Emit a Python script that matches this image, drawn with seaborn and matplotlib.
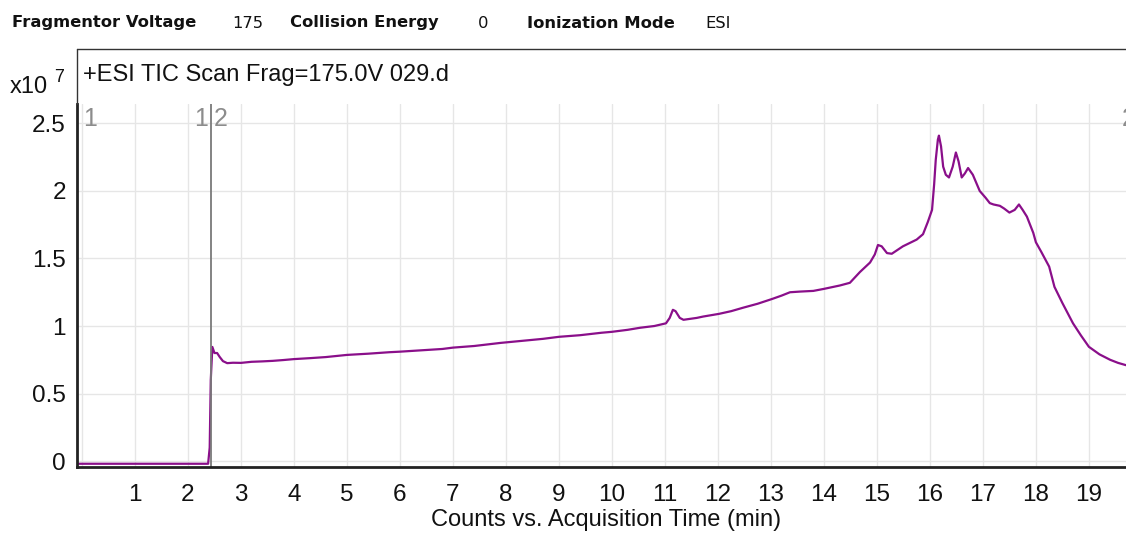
import pandas as pd
import seaborn as sns
import matplotlib.pyplot as plt
from matplotlib.lines import Line2D

tiempos = [
    -0.09, 2.38, 2.41, 2.43, 2.46, 2.50, 2.55, 2.60, 2.66, 2.74,
    2.85, 3.0, 3.2, 3.4, 3.6, 3.8, 4.0, 4.3, 4.6, 5.0,
    5.4, 5.8, 6.0, 6.4, 6.8, 7.0, 7.4, 7.9, 8.3, 8.7,
    9.0, 9.4, 9.8, 10.0, 10.3, 10.53, 10.8, 11.02, 11.09, 11.15,
    11.2, 11.28, 11.35, 11.42, 11.6, 11.72, 12.02, 12.25, 12.47, 12.75,
    13.02, 13.2, 13.36, 13.55, 13.8, 14.0, 14.3, 14.49, 14.68, 14.87,
    14.96, 15.02, 15.09, 15.19, 15.28, 15.49, 15.75, 15.87, 15.96, 16.04,
    16.08, 16.11, 16.15, 16.17, 16.21, 16.25, 16.30, 16.36, 16.43, 16.49,
    16.54, 16.6, 16.66, 16.72, 16.81, 16.94, 17.05, 17.13, 17.2, 17.32,
    17.4, 17.5, 17.6, 17.68, 17.75, 17.83, 17.9, 17.95, 18.0, 18.1,
    18.25, 18.35, 18.5, 18.7, 18.85, 19.0, 19.2, 19.4, 19.55, 19.70,
]
cuentas = [
    -0.02, -0.02, 0.10, 0.60, 0.845, 0.80, 0.80, 0.77, 0.74, 0.725,
    0.728, 0.727, 0.735, 0.738, 0.742, 0.748, 0.755, 0.762, 0.770, 0.786,
    0.795, 0.806, 0.81, 0.82, 0.83, 0.84, 0.852, 0.875, 0.89, 0.905,
    0.92, 0.932, 0.95, 0.957, 0.972, 0.987, 1.0, 1.02, 1.06, 1.12,
    1.11, 1.06, 1.046, 1.05, 1.06, 1.07, 1.09, 1.11, 1.135, 1.165,
    1.20, 1.225, 1.25, 1.255, 1.26, 1.275, 1.30, 1.32, 1.40, 1.47,
    1.53, 1.60, 1.59, 1.54, 1.535, 1.59, 1.64, 1.68, 1.77, 1.86,
    2.05, 2.23, 2.38, 2.41, 2.33, 2.18, 2.12, 2.10, 2.18, 2.285,
    2.22, 2.10, 2.13, 2.17, 2.12, 2.0, 1.95, 1.91, 1.90, 1.89,
    1.87, 1.84, 1.86, 1.90, 1.86, 1.81, 1.74, 1.69, 1.62, 1.55,
    1.44, 1.29, 1.17, 1.02, 0.93, 0.846, 0.79, 0.75, 0.727, 0.71,
]
x_ticks = list(range(0, 20))
x_labels = [""] + [str(i) for i in range(1, 20)]
y_ticks = [0, 0.5, 1, 1.5, 2, 2.5]
y_labels = ["0", "0.5", "1", "1.5", "2", "2.5"]
corte_segmento = 2.43

df = pd.DataFrame({"Tiempo": tiempos, "Cuentas": cuentas})

sns.set_style("white")
plt.rcParams["font.family"] = ["Liberation Sans", "DejaVu Sans"]

fig = plt.figure(figsize=(11.26, 5.33), dpi=100)
W, H = 1126, 533
ax = fig.add_axes([77 / W, 1 - 467 / H, 1 - 77 / W, (467 - 104) / H])

sns.lineplot(data=df, x="Tiempo", y="Cuentas", color="#8a0f8a", linewidth=1.6, ax=ax)

ax.set_xlim(-0.094, 19.70)
ax.set_ylim(-0.044, 2.644)
ax.set_xticks(x_ticks)
ax.set_xticklabels(x_labels)
ax.set_yticks(y_ticks)
ax.set_yticklabels(y_labels)
ax.set_xlabel("")
ax.set_ylabel("")
ax.grid(True, color="#e6e6e6", linewidth=1)
ax.tick_params(axis="both", length=6, width=1, color="#888888", labelsize=17.5,
               labelcolor="#111111", direction="out", pad=2)
ax.tick_params(axis="x", pad=6)
for lado in ["top", "right"]:
    ax.spines[lado].set_visible(False)
for lado in ["left", "bottom"]:
    ax.spines[lado].set_color("#222222")
    ax.spines[lado].set_linewidth(2)

# Linea de corte entre segmentos
ax.axvline(corte_segmento, color="#7a7a7a", linewidth=1.3)
gris = "#8c8c8c"
ax.text(0.02, 2.62, "1", color=gris, fontsize=18, ha="left", va="top")
ax.text(corte_segmento - 0.06, 2.62, "1", color=gris, fontsize=18, ha="right", va="top")
ax.text(corte_segmento + 0.06, 2.62, "2", color=gris, fontsize=18, ha="left", va="top")
ax.text(19.62, 2.62, "2", color=gris, fontsize=18, ha="left", va="top", clip_on=False)

# Marco del titulo
fig.add_artist(Line2D([77 / W, 1.0], [1 - 49 / H, 1 - 49 / H], color="#333333", linewidth=1))
fig.add_artist(Line2D([77 / W, 77 / W], [1 - 49 / H, 1 - 104 / H], color="#333333", linewidth=1))
fig.text(83 / W, 1 - 75 / H, "+ESI TIC Scan Frag=175.0V 029.d", fontsize=17,
         ha="left", va="center", color="#111111")
fig.text(10 / W, 1 - 87 / H, "x10", fontsize=17, ha="left", va="center", color="#111111")
fig.text(54 / W, 1 - 77 / H, "7", fontsize=13, ha="left", va="center", color="#111111")

# Encabezado
fig.text(606 / W, 1 - 520 / H, "Counts vs. Acquisition Time (min)", fontsize=17,
         ha="center", va="center", color="#111111")
enc = [("Fragmentor Voltage", 12, "bold"), ("175", 232, "normal"),
       ("Collision Energy", 290, "bold"), ("0", 478, "normal"),
       ("Ionization Mode", 527, "bold"), ("ESI", 705, "normal")]
for texto, xp, peso in enc:
    fig.text(xp / W, 1 - 23 / H, texto, fontsize=11.8, fontweight=peso,
             family=["DejaVu Sans"], ha="left", va="center", color="#111111")

fig.savefig("out.png", dpi=100)
